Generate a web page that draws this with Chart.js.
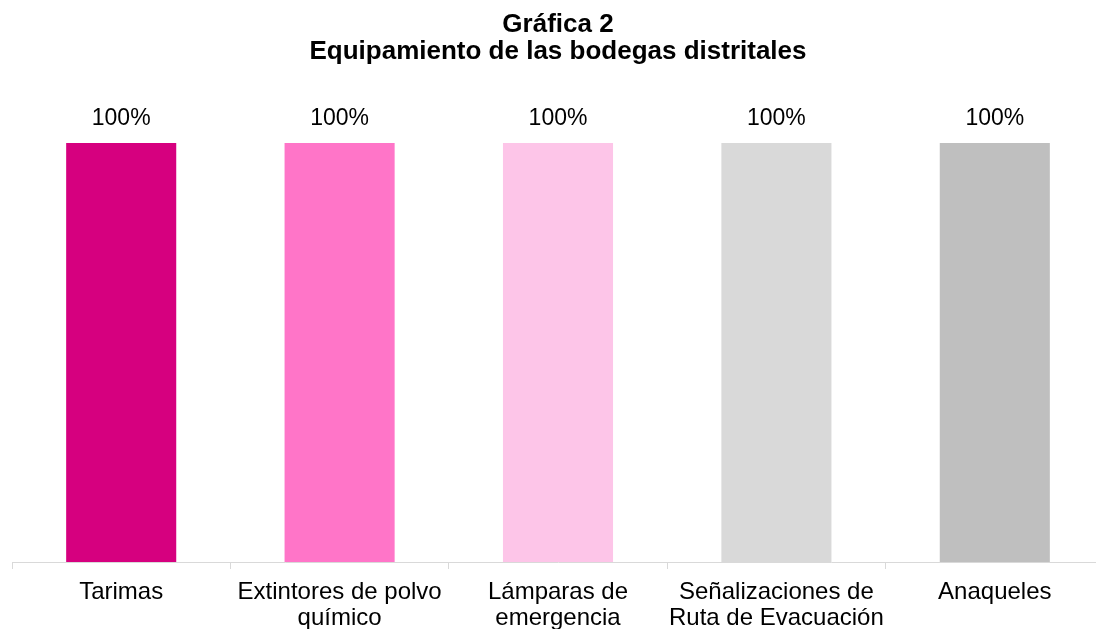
<!DOCTYPE html>
<html>
<head>
<meta charset="utf-8">
<script src="https://cdn.jsdelivr.net/npm/chart.js@4"></script>
<style>
  html, body { margin: 0; padding: 0; background: #fff; overflow: hidden; width: 1096px; height: 629px; }
  #wrap { position: absolute; left: -8px; top: 0; width: 1112px; height: 640px; }
</style>
</head>
<body>
<div id="wrap"><canvas id="equipo"></canvas></div>
<script>
var categorias = [
    'Tarimas',
    ['Extintores de polvo', 'químico'],
    ['Lámparas de', 'emergencia'],
    ['Señalizaciones de', 'Ruta de Evacuación'],
    'Anaqueles'
];
var porcentajes = [100, 100, 100, 100, 100];
var colores = ['#D6007F', '#FF75C8', '#FDC5E8', '#D9D9D9', '#BFBFBF'];
var titulo = ['Gráfica 2', 'Equipamiento de las bodegas distritales'];

var fuente = "'Liberation Sans', Arial, sans-serif";

// etiquetas de porcentaje sobre cada barra
var etiquetas = {
    id: 'etiquetas',
    afterDatasetsDraw: function(chart) {
        var ctx = chart.ctx;
        var meta = chart.getDatasetMeta(0);
        ctx.save();
        ctx.font = '23px ' + fuente;
        ctx.fillStyle = '#000';
        ctx.textAlign = 'center';
        ctx.textBaseline = 'middle';
        meta.data.forEach(function(bar, i) {
            ctx.fillText(porcentajes[i] + '%', bar.x, bar.y - 24);
        });
        ctx.restore();
    }
};

var equipoChart = new Chart(document.getElementById('equipo'), {
    type: 'bar',
    data: {
        labels: categorias,
        datasets: [{
            label: 'Equipamiento',
            data: porcentajes,
            backgroundColor: colores,
            borderWidth: 0,
            categoryPercentage: 1,
            barPercentage: 0.504
        }]
    },
    options: {
        responsive: true,
        maintainAspectRatio: false,
        animation: false,
        layout: { padding: { left: 20, right: 0, top: 0, bottom: 0 } },
        plugins: {
            legend: { display: false },
            tooltip: { enabled: false },
            title: {
                display: true,
                text: titulo,
                color: '#000',
                font: { family: fuente, size: 26, weight: 'bold', lineHeight: 1.04 },
                padding: { top: 11, bottom: 78 }
            }
        },
        scales: {
            y: { display: false, min: 0, max: 100 },
            x: {
                offset: true,
                border: { display: true, color: '#D9D9D9', width: 1 },
                grid: {
                    display: true,
                    offset: true,
                    drawOnChartArea: false,
                    drawTicks: true,
                    tickLength: 7,
                    color: '#D9D9D9'
                },
                ticks: {
                    color: '#000',
                    padding: 10,
                    maxRotation: 0,
                    autoSkip: false,
                    font: { family: fuente, size: 24, lineHeight: 1.08 }
                },
                afterFit: function(scale) { scale.height = 78; }
            }
        }
    },
    plugins: [etiquetas]
});
</script>
</body>
</html>
